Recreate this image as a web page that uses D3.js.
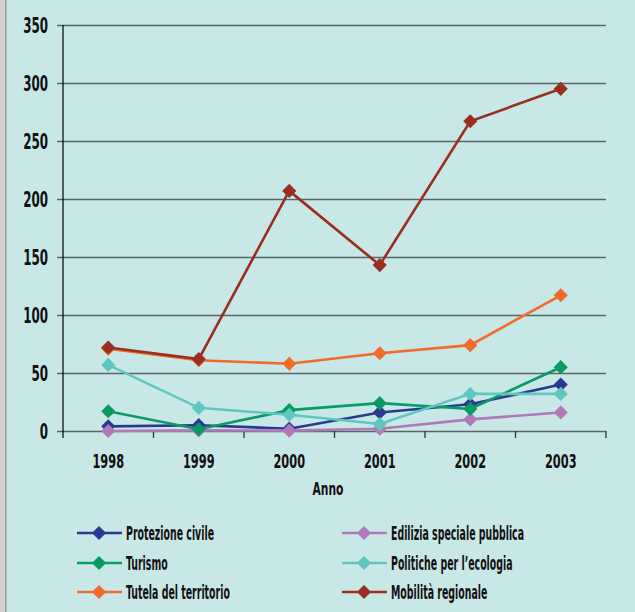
<!DOCTYPE html>
<html>
<head>
<meta charset="utf-8">
<script src="https://cdn.jsdelivr.net/npm/d3@7"></script>
<style>
  body { margin: 0; background: #c8e8e8; }
  text { font-family: "DejaVu Sans Condensed", "DejaVu Sans", sans-serif; fill: #111; }
</style>
</head>
<body>
<div id="chart"></div>
<script>
var svgWidth = 635;
var svgHeight = 612;

var years = ["1998", "1999", "2000", "2001", "2002", "2003"];
var yTicks = [0, 50, 100, 150, 200, 250, 300, 350];

// series in drawing order
var seriesNames = ["Protezione civile", "Edilizia speciale pubblica", "Turismo",
  "Politiche per l\u2019ecologia", "Tutela del territorio", "Mobilit\u00e0 regionale"];
var seriesColors = ["#2b3990", "#b07ab8", "#0a9b65", "#5ec8c0", "#f26b2a", "#9a2e20"];

var protezione = [4, 5, 2, 16, 23, 40];
var edilizia = [0, 0.5, 0.3, 2, 10, 16];
var turismo = [17, 1.5, 18, 24, 19, 55];
var politiche = [57, 20, 14, 6, 32, 32];
var tutela = [71, 61, 58, 67, 74, 117];
var mobilita = [72, 62, 207, 143, 267, 295];

var seriesValues = [protezione, edilizia, turismo, politiche, tutela, mobilita];

var margin = { top: 25, left: 63, right: 29, bottom: 181 };

// condensed look: squeeze text horizontally
var axisSqueeze = 0.63;
var legendSqueeze = 0.55;

var svg = d3.select("#chart")
  .append("svg")
  .attr("width", svgWidth)
  .attr("height", svgHeight);

// background + grey strip on the left
svg.append("rect").attr("width", svgWidth).attr("height", svgHeight).attr("fill", "#c8e8e8");
svg.append("rect").attr("width", 5).attr("height", svgHeight).attr("fill", "#d2d2d2");
svg.append("rect").attr("x", 5).attr("width", 1.5).attr("height", svgHeight).attr("fill", "#9a9a9a");

var xScale = d3.scaleBand()
  .domain(years)
  .range([margin.left, svgWidth - margin.right]);

var yScale = d3.scaleLinear()
  .domain([0, 350])
  .range([svgHeight - margin.bottom, margin.top]);

var plotRight = svgWidth - margin.right;
var y0 = yScale(0);

// y axis with gridlines
var yAxis = svg.append("g")
  .attr("transform", `translate(${margin.left},0)`)
  .call(d3.axisLeft(yScale).tickValues(yTicks).tickSize(6));
yAxis.select(".domain").remove();
yAxis.selectAll(".tick line")
  .attr("x1", -6)
  .attr("x2", plotRight - margin.left)
  .attr("stroke", "#566666")
  .attr("stroke-width", 1.6);
yAxis.selectAll(".tick text")
  .attr("font-size", 21)
  .attr("font-weight", "bold")
  .attr("x", -15 / axisSqueeze)
  .attr("dy", "0.36em")
  .attr("transform", `scale(${axisSqueeze},1)`)
  .attr("fill", "#111");

// x axis labels
var xAxis = svg.append("g")
  .attr("transform", `translate(0,${y0})`)
  .call(d3.axisBottom(xScale).tickSize(0).tickPadding(23));
xAxis.select(".domain").remove();
xAxis.selectAll(".tick text")
  .attr("font-size", 20)
  .attr("font-weight", "bold")
  .attr("transform", `scale(${axisSqueeze},1)`)
  .attr("fill", "#111");

// x ticks at category boundaries
var bounds = years.map(d => xScale(d)).concat([plotRight]);
svg.selectAll(".xb")
  .data(bounds.slice(1))
  .enter()
  .append("line")
  .attr("class", "xb")
  .attr("x1", d => d).attr("x2", d => d)
  .attr("y1", y0).attr("y2", y0 + 7)
  .attr("stroke", "#333")
  .attr("stroke-width", 1.3);

// vertical axis line
svg.append("line")
  .attr("x1", margin.left).attr("x2", margin.left)
  .attr("y1", margin.top).attr("y2", y0 + 7)
  .attr("stroke", "#000")
  .attr("stroke-width", 1.2);

svg.append("text")
  .attr("transform", "translate(328,495) scale(0.7,1)")
  .attr("text-anchor", "middle")
  .attr("font-size", 17)
  .attr("font-weight", "bold")
  .text("Anno");

// lines
var line = d3.line()
  .x((d, i) => xScale(years[i]) + xScale.bandwidth() / 2)
  .y(d => yScale(d));

var diamond = d3.symbol().type(d3.symbolDiamond2).size(128);

seriesValues.forEach(function(vals, s) {
  var g = svg.append("g");
  g.append("path")
    .datum(vals)
    .attr("d", line)
    .attr("fill", "none")
    .attr("stroke", seriesColors[s])
    .attr("stroke-width", 2.6);
  g.selectAll("path.pt")
    .data(vals)
    .enter()
    .append("path")
    .attr("class", "pt")
    .attr("d", diamond)
    .attr("transform", (d, i) => `translate(${xScale(years[i]) + xScale.bandwidth() / 2},${yScale(d)})`)
    .attr("fill", seriesColors[s]);
});

// legend, two columns
var legendCols = [77, 342];
var legendRows = [533, 563, 592];
var legendOrder = [0, 2, 4, 1, 3, 5];
legendOrder.forEach(function(s, k) {
  var col = Math.floor(k / 3), row = k % 3;
  var lx = legendCols[col], ly = legendRows[row];
  var g = svg.append("g").attr("transform", `translate(${lx},${ly})`);
  g.append("line")
    .attr("x1", 0).attr("x2", 45)
    .attr("stroke", seriesColors[s])
    .attr("stroke-width", 2.6);
  g.append("path")
    .attr("d", diamond)
    .attr("transform", "translate(22,0)")
    .attr("fill", seriesColors[s]);
  g.append("text")
    .attr("transform", `translate(49,0) scale(${legendSqueeze},1)`)
    .attr("dy", "0.36em")
    .attr("font-size", 19)
    .attr("font-weight", "bold")
    .text(seriesNames[s]);
});
</script>
</body>
</html>
